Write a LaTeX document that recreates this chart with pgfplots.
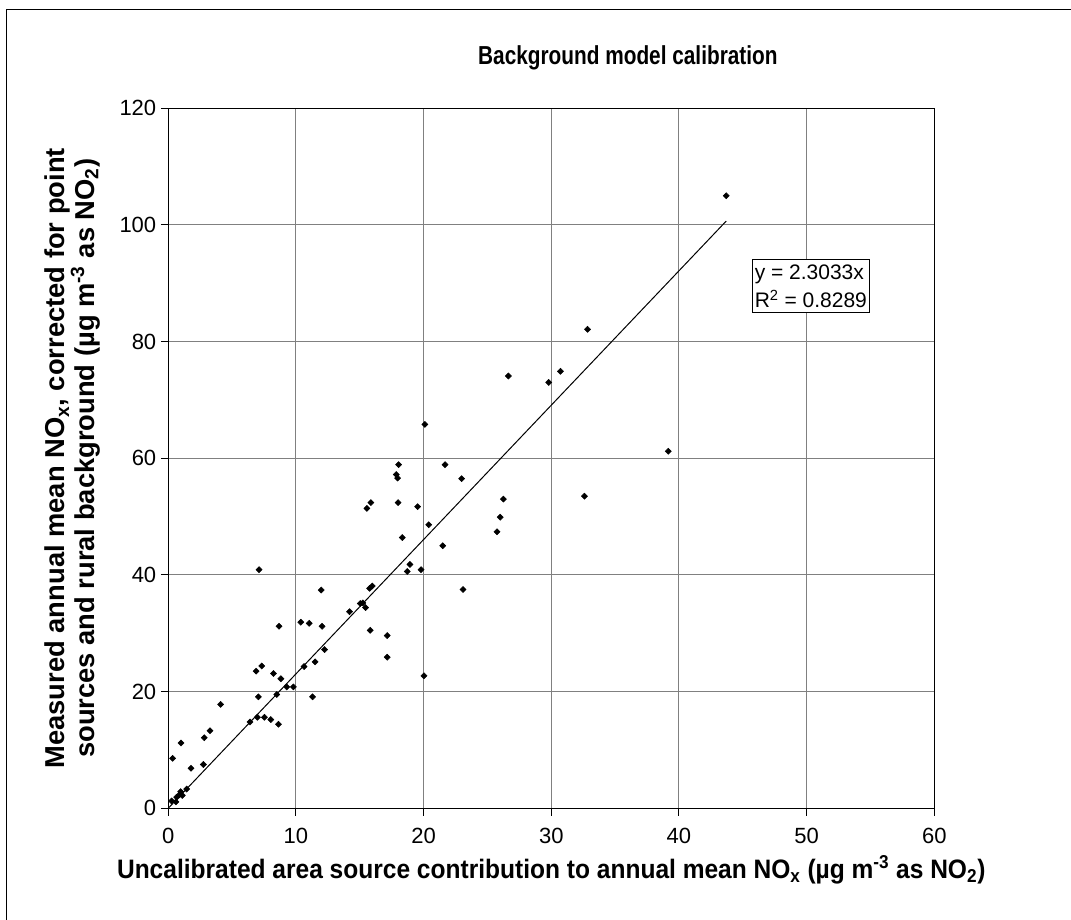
\documentclass[border=0pt]{standalone}
\usepackage{fontspec}
\setmainfont{Liberation Sans}
\newfontfamily\ttlfont{Liberation Sans}[FakeStretch=0.8]
\newfontfamily\xlabfont{Liberation Sans}[FakeStretch=0.92]
\usepackage{pgfplots}
\pgfplotsset{compat=1.18}
\pgfplotstableread{
x y
0.26 1.25
0.6 1.1
0.66 1.9
0.87 2.3
0.97 2.85
1.1 2.2
1.44 3.3
0.34 8.56
1.0 11.2
1.78 6.85
2.75 7.5
2.82 12.1
3.27 13.3
4.1 17.8
6.4 14.8
6.98 15.6
7.53 15.6
8.03 15.2
8.63 14.4
7.06 19.1
8.5 19.5
6.88 23.5
7.32 24.4
8.24 23.1
8.82 22.2
9.28 20.8
9.8 20.8
10.64 24.3
11.5 25.1
12.24 27.2
11.3 19.1
7.11 40.9
8.68 31.2
10.38 31.9
11.04 31.7
11.98 37.4
12.05 31.2
14.2 33.7
15.04 35.1
15.24 35.2
15.45 34.4
15.77 37.7
15.98 38.1
15.82 30.5
17.15 29.6
17.15 25.9
20.03 22.7
18.33 46.4
18.72 40.6
18.93 41.8
19.8 40.9
20.4 48.6
21.5 45.0
23.09 37.5
15.56 51.4
15.87 52.4
18.0 52.4
19.53 51.7
25.75 47.4
26.0 49.9
26.25 53.0
20.1 65.8
26.64 74.1
29.8 73.0
30.72 74.9
18.04 58.9
17.86 57.2
17.96 56.6
21.68 58.9
22.98 56.5
32.6 53.5
39.17 61.2
32.84 82.1
43.7 105.0
}\calib
\begin{document}
\begin{tikzpicture}
\useasboundingbox (0,0) rectangle (803.25pt,690pt);
\fill[white] (0,0) rectangle (803.25pt,690pt);
\draw[black, line width=0.75pt] (4.5pt,-20pt) -- (4.5pt,683pt) -- (830pt,683pt);
\begin{axis}[
  at={(126.2pt,83.8pt)}, anchor=south west,
  scale only axis, width=574.5pt, height=525pt,
  xmin=0, xmax=60, ymin=0, ymax=120,
  xtick={0,10,...,60}, ytick={0,20,...,120},
  xtick pos=left, ytick pos=left,
  grid=major, major grid style={gray, line width=0.75pt},
  axis line style={black, line width=0.75pt},
  tick style={black, line width=0.75pt},
  tick align=outside, major tick length=5.5pt,
  tick label style={font=\fontsize{16.5}{19}\selectfont},
  xticklabel style={yshift=-6pt},
  /pgf/number format/assume math mode=true,
  title={Background model calibration},
  title style={font=\ttlfont\bfseries\fontsize{19.5}{22}\selectfont, at={(axis description cs:0.6,1.06)}, anchor=center},
  xlabel={Uncalibrated area source contribution to annual mean NO\textsubscript{x} (µg m\textsuperscript{-3} as NO\textsubscript{2})},
  xlabel style={font=\xlabfont\bfseries\fontsize{20}{23}\selectfont, at={(axis description cs:0.5,-0.088)}, anchor=center},
  ylabel={Measured annual mean NO\textsubscript{x}, corrected for point\\sources and rural background (µg m\textsuperscript{-3} as NO\textsubscript{2})},
  ylabel style={font=\bfseries\fontsize{20.5}{22}\selectfont, align=center, at={(axis description cs:-0.125,0.5)}, anchor=center, rotate=0},
  clip=false,
]
\addplot[black, line width=0.75pt, no marks] coordinates {(0,0) (43.7,100.65)};
\addplot[only marks, mark=square*, mark size=1.6pt, mark options={rotate=45, fill=black, draw=black}] table[x=x,y=y] {\calib};
\node[draw=black, fill=white, line width=0.6pt, anchor=north west, align=left, inner xsep=2pt, inner ysep=4pt, font=\fontsize{15.75}{21}\selectfont] at (axis cs:45.7,94.2) {y = 2.3033x\\R\textsuperscript{2} = 0.8289};
\end{axis}
\end{tikzpicture}
\end{document}
